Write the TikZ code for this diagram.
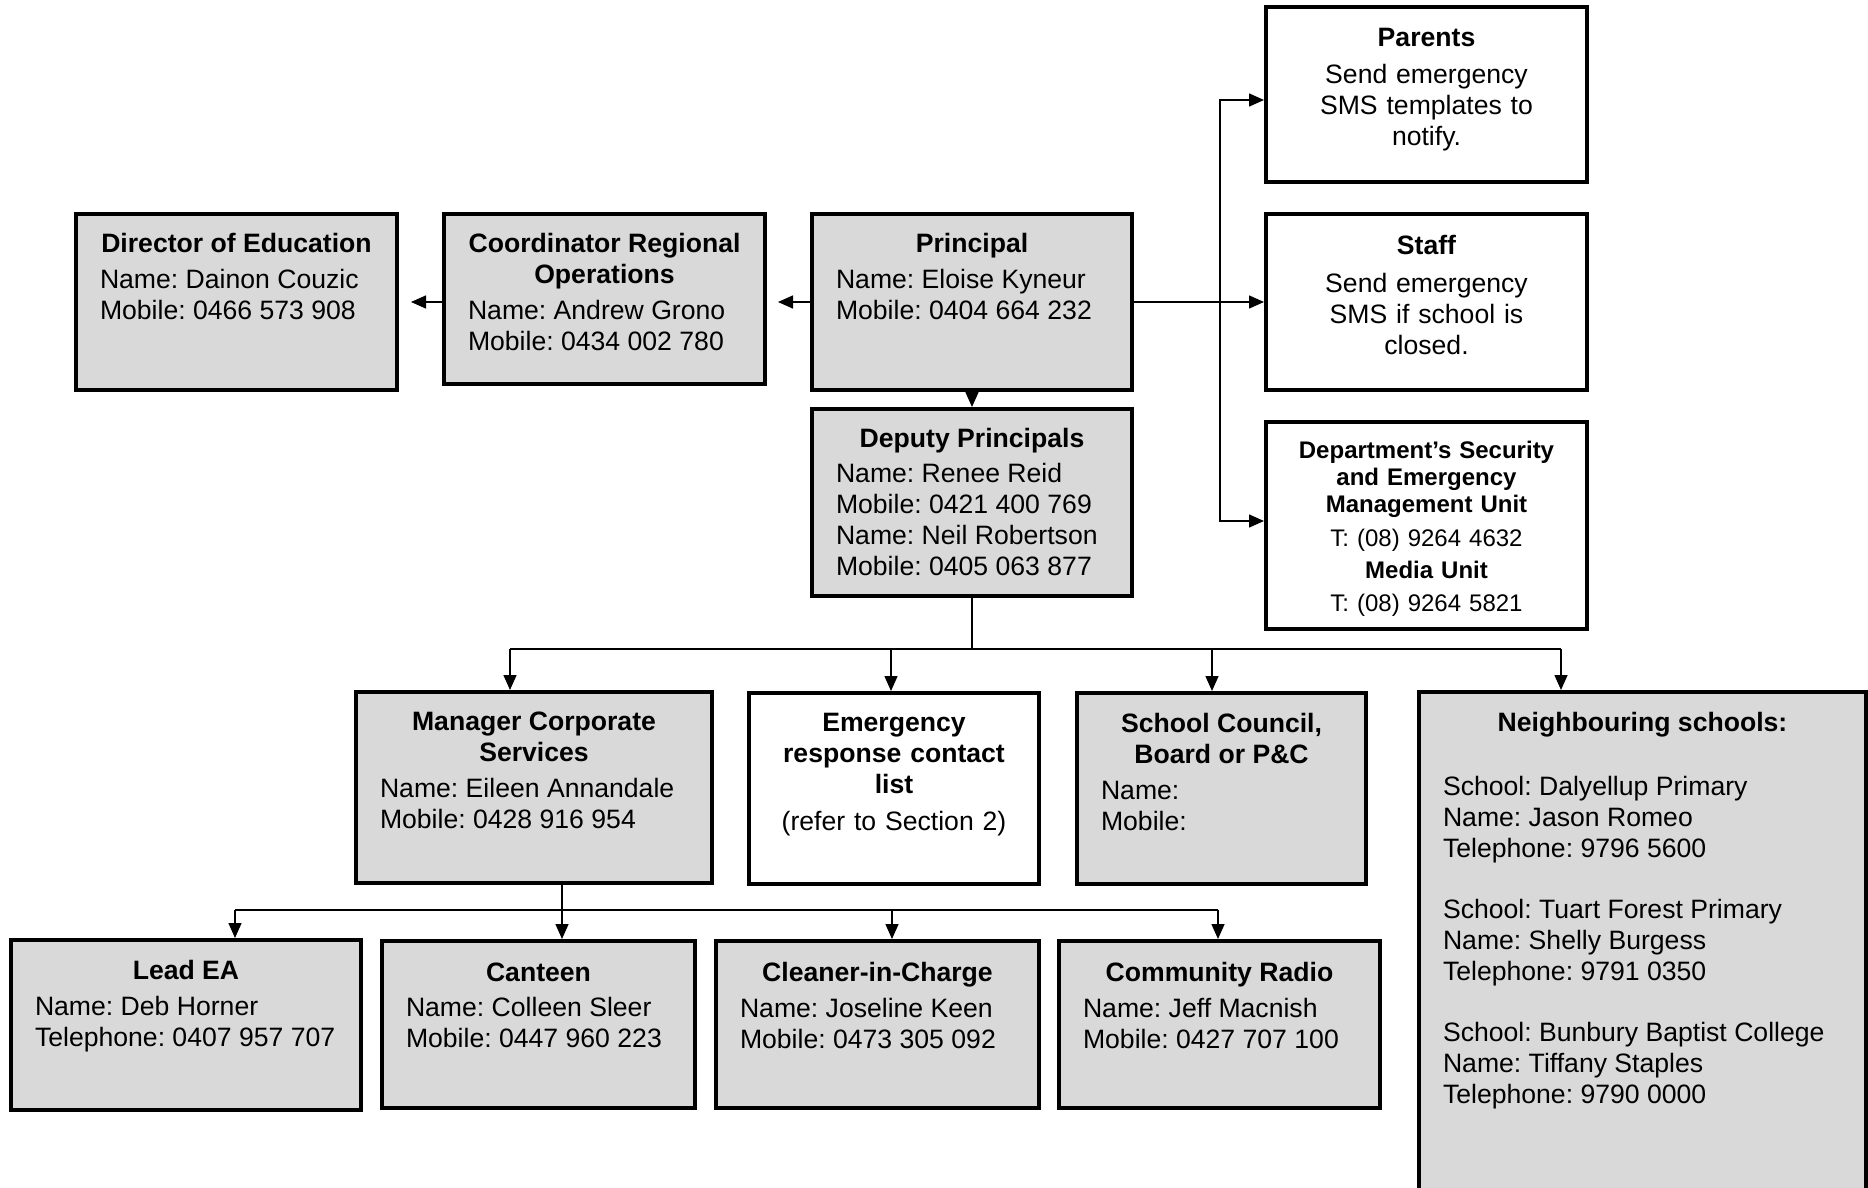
\documentclass[tikz,border=0pt]{standalone}
\usepackage{fontspec}
\setmainfont{Liberation Sans}
\usetikzlibrary{arrows.meta,calc}
\definecolor{boxgrey}{RGB}{217,217,217}
\newcommand\orgbody[4][2.4pt]{\begin{minipage}{#2}{\centering\bfseries #3\par}\vspace{#1}\raggedright #4\end{minipage}}
\begin{document}
\begin{tikzpicture}[x=0.5pt,y=-0.5pt,
  box/.style={draw, line width=2pt, inner sep=0pt, anchor=center},
  gbox/.style={box, fill=boxgrey},
  wbox/.style={box, fill=white},
  txt/.style={anchor=north, inner sep=0pt, font=\fontsize{13.3}{15.5}\selectfont\frenchspacing},
  conn/.style={line width=0.75pt},
  arr/.style={line width=0.75pt, -{Triangle[length=7.5pt,width=6.5pt]}}]
\useasboundingbox (0,0) rectangle (1868,1188);
\clip (0,0) rectangle (1868,1188);

% boxes
\node[gbox, minimum width=160.5pt, minimum height=88pt] (dir) at (236.5,302) {};
\node[gbox, minimum width=160.5pt, minimum height=85pt] (coord) at (604.5,299) {};
\node[gbox, minimum width=160pt, minimum height=88pt] (prin) at (972,302) {};
\node[gbox, minimum width=160pt, minimum height=93.5pt] (dep) at (972,502.5) {};
\node[wbox, minimum width=160.5pt, minimum height=87.5pt] (par) at (1426.5,94.5) {};
\node[wbox, minimum width=160.5pt, minimum height=88pt] (staff) at (1426.5,302) {};
\node[wbox, minimum width=160.5pt, minimum height=103.5pt] (dept) at (1426.5,525.5) {};
\node[gbox, minimum width=178pt, minimum height=95.5pt] (mgr) at (534,787.5) {};
\node[wbox, minimum width=145pt, minimum height=95.5pt] (emer) at (894,788.5) {};
\node[gbox, minimum width=144.5pt, minimum height=95.5pt] (council) at (1221.5,788.5) {};
\node[gbox, minimum width=223.5pt, minimum height=269pt] (neigh) at (1642.5,961) {};
\node[gbox, minimum width=175pt, minimum height=85pt] (lead) at (186,1025) {};
\node[gbox, minimum width=156.5pt, minimum height=83.5pt] (cant) at (538.5,1024.5) {};
\node[gbox, minimum width=161.5pt, minimum height=83.5pt] (clean) at (877.5,1024.5) {};
\node[gbox, minimum width=160.5pt, minimum height=83.5pt] (radio) at (1219.5,1024.5) {};

% texts
\node[txt] (dir-t) at ([yshift=-10.6pt]dir.north)
  {\orgbody{136.5pt}{Director of Education}{Name: Dainon Couzic\\Mobile: 0466 573 908}};
\node[txt] (coord-t) at ([yshift=-10.6pt]coord.north)
  {\orgbody{136.5pt}{Coordinator Regional\\Operations}{Name: Andrew Grono\\Mobile: 0434 002 780}};
\node[txt] (prin-t) at ([yshift=-10.6pt]prin.north)
  {\orgbody{136pt}{Principal}{Name: Eloise Kyneur\\Mobile: 0404 664 232}};
\node[txt] (dep-t) at ([yshift=-10.3pt]dep.north)
  {\orgbody[2pt]{136pt}{Deputy Principals}{Name: Renee Reid\\Mobile: 0421 400 769\\Name: Neil Robertson\\Mobile: 0405 063 877}};
\node[txt, text width=150pt, align=center] (par-t) at ([yshift=-11.6pt]par.north)
  {\textbf{Parents}\\[3pt]Send emergency\\SMS templates to\\notify.};
\node[txt, text width=150pt, align=center] (staff-t) at ([yshift=-11.2pt]staff.north)
  {\textbf{Staff}\\[3.5pt]Send emergency\\SMS if school is\\closed.};
\node[txt, text width=150pt, align=center, font=\fontsize{12}{13.7}\selectfont\frenchspacing] (dept-t) at ([yshift=-10.2pt]dept.north)
  {\textbf{Department’s Security}\\\textbf{and Emergency}\\\textbf{Management Unit}\\[3pt]T: (08) 9264 4632\\[2.4pt]\textbf{Media Unit}\\[3pt]T: (08) 9264 5821};
\node[txt] (mgr-t) at ([yshift=-11pt]mgr.north)
  {\orgbody{154pt}{Manager Corporate\\Services}{Name: Eileen Annandale\\Mobile: 0428 916 954}};
\node[txt, text width=138pt, align=center] (emer-t) at ([yshift=-11.1pt]emer.north)
  {\textbf{Emergency}\\\textbf{response contact}\\\textbf{list}\\[3pt](refer to Section 2)};
\node[txt] (council-t) at ([yshift=-11.1pt]council.north)
  {\orgbody{120.5pt}{School Council,\\Board or P\&C}{Name:\\Mobile:}};
\node[txt] (neigh-t) at ([yshift=-11pt]neigh.north)
  {\orgbody[1pt]{199.5pt}{Neighbouring schools:}{\mbox{}\\School: Dalyellup Primary\\Name: Jason Romeo\\Telephone: 9796 5600\\[-0.5pt]\mbox{}\\School: Tuart Forest Primary\\Name: Shelly Burgess\\Telephone: 9791 0350\\[-0.5pt]\mbox{}\\School: Bunbury Baptist College\\Name: Tiffany Staples\\Telephone: 9790 0000}};
\node[txt] (lead-t) at ([yshift=-11pt]lead.north)
  {\orgbody{151pt}{Lead EA}{Name: Deb Horner\\Telephone: 0407 957 707}};
\node[txt] (cant-t) at ([yshift=-11.6pt]cant.north)
  {\orgbody{132.5pt}{Canteen}{Name: Colleen Sleer\\Mobile: 0447 960 223}};
\node[txt] (clean-t) at ([yshift=-11.6pt]clean.north)
  {\orgbody{137.5pt}{Cleaner-in-Charge}{Name: Joseline Keen\\Mobile: 0473 305 092}};
\node[txt] (radio-t) at ([yshift=-11.6pt]radio.north)
  {\orgbody{136.5pt}{Community Radio}{Name: Jeff Macnish\\Mobile: 0427 707 100}};

% connectors
\draw[arr, shorten >=5.5pt] (prin.west) -- (prin.west -| coord.east);
\draw[arr, shorten >=6pt] (coord.west |- prin.west) -- (dir.east |- prin.west);
\draw[arr] (prin.south) -- (dep.north);
\draw[arr] (prin.east) -- (staff.west);
\coordinate (tr) at (1220,302);
\draw[arr] (tr) |- ([yshift=-2.75pt]par.west);
\draw[arr] (tr) |- ([yshift=2.25pt]dept.west);

\coordinate (dj) at (972,649);
\coordinate (d1) at (510,649);
\coordinate (d2) at (891,649);
\coordinate (d3) at (1212,649);
\coordinate (d4) at (1561,649);
\draw[conn] (dep.south) -- (dj);
\draw[conn] (d1) -- (d4);
\draw[arr] (d1) -- (d1 |- mgr.north);
\draw[arr] (d2) -- (d2 |- emer.north);
\draw[arr] (d3) -- (d3 |- council.north);
\draw[arr] (d4) -- (d4 |- neigh.north);

\coordinate (mj) at (562,910);
\coordinate (m1) at (235,910);
\coordinate (m3) at (892,910);
\coordinate (m4) at (1218,910);
\draw[conn] (mj |- mgr.south) -- (mj);
\draw[conn] (m1) -- (m4);
\draw[arr] (m1) -- (m1 |- lead.north);
\draw[arr] (mj) -- (mj |- cant.north);
\draw[arr] (m3) -- (m3 |- clean.north);
\draw[arr] (m4) -- (m4 |- radio.north);
\end{tikzpicture}
\end{document}
